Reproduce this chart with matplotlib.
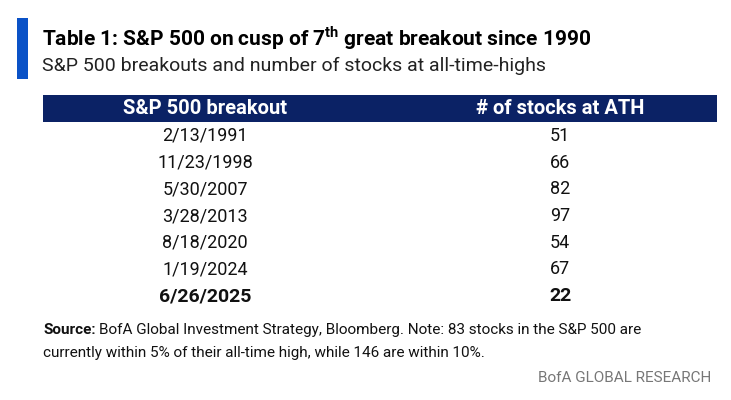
import matplotlib.pyplot as plt
from matplotlib.patches import Rectangle

plt.rcParams['font.family'] = ['Roboto', 'DejaVu Sans']

# table data
breakout_dates = ['2/13/1991', '11/23/1998', '5/30/2007', '3/28/2013', '8/18/2020', '1/19/2024', '6/26/2025']
stocks_at_ath = [51, 66, 82, 97, 54, 67, 22]
col_headers = ['S&P 500 breakout', '# of stocks at ATH']

navy = '#0b2265'
blue = '#0a52c7'

fig = plt.figure(figsize=(7.31, 4.0), dpi=100)
ax = fig.add_axes([0, 0, 1, 1])
ax.set_xlim(0, 731)
ax.set_ylim(400, 0)
ax.axis('off')

# accent bar + titles
ax.add_patch(Rectangle((17, 18), 11, 61, color=blue, lw=0))
ax.text(42, 38, 'Table 1: S&P 500 on cusp of 7$^{\\mathregular{th}}$ great breakout since 1990',
        fontsize=15, fontweight='bold', va='center', ha='left', color='black')
ax.text(42, 66, 'S&P 500 breakouts and number of stocks at all-time-highs',
        fontsize=14, va='center', ha='left', color='#222222')

# header
ax.add_patch(Rectangle((43, 95), 674, 27, color=navy, lw=0))
col_x = [205, 560]
for x, h in zip(col_x, col_headers):
    ax.text(x, 108.5, h, fontsize=14.5, fontweight='bold', color='white', ha='center', va='center')

# rows
row_y0 = 136
row_h = 26.7
n = len(breakout_dates)
for i, (d, c) in enumerate(zip(breakout_dates, stocks_at_ath)):
    y = row_y0 + i * row_h
    last = i == n - 1
    w = 'bold' if last else 'normal'
    fs = 14 if last else 13
    ax.text(col_x[0], y, d, fontsize=fs, fontweight=w, ha='center', va='center', color='#111111')
    ax.text(col_x[1], y, str(c), fontsize=fs, fontweight=w, ha='center', va='center', color='#111111')

# footnote
src = ax.text(43, 330, 'Source:', fontsize=11, fontweight='bold', ha='left', va='center', color='#111111')
fig.canvas.draw()
bb = src.get_window_extent()
x_after = ax.transData.inverted().transform((bb.x1, bb.y0))[0] + 3
ax.text(x_after, 330, 'BofA Global Investment Strategy, Bloomberg. Note: 83 stocks in the S&P 500 are',
        fontsize=11, ha='left', va='center', color='#111111')
ax.text(43, 353, 'currently within 5% of their all-time high, while 146 are within 10%.',
        fontsize=11, ha='left', va='center', color='#111111')
ax.text(711, 378, 'BofA GLOBAL RESEARCH', fontsize=11, ha='right', va='center', color='#777777')

fig.savefig('out.png', dpi=100)
